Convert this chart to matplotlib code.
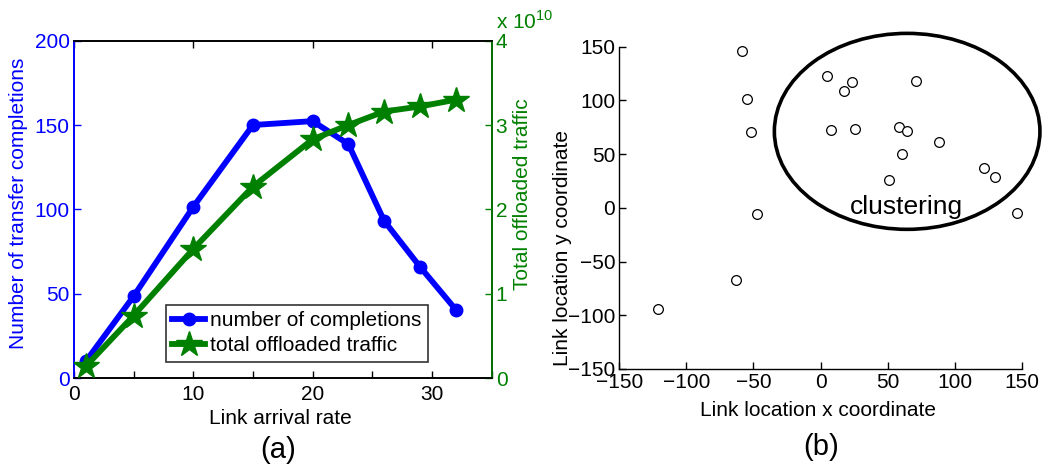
import matplotlib
matplotlib.use("Agg")
import matplotlib.pyplot as plt
from matplotlib.patches import Ellipse
from matplotlib.ticker import MultipleLocator

plt.rcParams['font.family'] = ['Liberation Sans', 'DejaVu Sans']
plt.rcParams['mathtext.fontset'] = 'custom'
plt.rcParams['mathtext.rm'] = 'Liberation Sans'

# ---- data (a) ----
arrival_rate = [1, 5, 10, 15, 20, 23, 26, 29, 32]
completions = [10, 48.5, 101.5, 150, 152.3, 138.7, 93.2, 66, 40.6]
traffic_e10 = [0.14, 0.74, 1.53, 2.27, 2.83, 3.0, 3.16, 3.22, 3.30]

# ---- data (b) ----
link_x = [-58.8, -55, -51.6, -47.1, -62.8, -121.2, 4.6, 17.5, 23.7, 71.2,
          7.8, 25.5, 58.5, 64.8, 61, 88.4, 50.8, 121.7, 130.4, 146.8]
link_y = [146.3, 101.6, 70.6, -5.4, -67.2, -93.9, 123, 109, 117.1, 118,
          72.1, 73.4, 75.2, 71.5, 49.8, 61, 25.6, 36.8, 28.4, -4.8]

BLUE = (0, 0, 1)
GREEN = (0, 0.5, 0)
FS = 15
W, H = 1043, 466

fig = plt.figure(figsize=(W / 100, H / 100), dpi=100)

def fx(px):
    return px / W

def fy(py):
    return 1 - py / H

# ---------------- panel (a) ----------------
L, R, T, B = 74, 491.5, 40.7, 378
ax1 = fig.add_axes([fx(L), fy(B), (R - L) / W, (B - T) / H])
ax1.plot(arrival_rate, completions, color=BLUE, lw=4.2, marker='o', ms=9,
         label='number of completions', zorder=3)
ax1.set_xlim(0, 35)
ax1.set_ylim(0, 200)
ax1.xaxis.set_major_locator(MultipleLocator(10))
ax1.xaxis.set_minor_locator(MultipleLocator(5))
ax1.yaxis.set_major_locator(MultipleLocator(50))
ax1.tick_params(axis='x', which='both', direction='in', length=5, width=1,
                labelsize=FS, pad=5, colors='black')
ax1.tick_params(axis='x', which='minor', top=False)
ax1.tick_params(axis='x', which='major', top=True)
ax1.tick_params(axis='y', direction='in', length=5, width=1, labelsize=FS,
                colors=BLUE, pad=3)
ax1.spines['left'].set_color(BLUE)
for s in ax1.spines.values():
    s.set_linewidth(1.2)

ax2 = ax1.twinx()
ax2.plot(arrival_rate, traffic_e10, color=GREEN, lw=4.2, marker='*', ms=19,
         label='total offloaded traffic', zorder=3)
ax2.set_ylim(0, 4)
ax2.yaxis.set_major_locator(MultipleLocator(1))
ax2.tick_params(axis='y', direction='in', length=5, width=1, labelsize=FS,
                colors=GREEN, pad=3)
ax2.spines['right'].set_color(GREEN)
ax2.spines['left'].set_color(BLUE)
for s in ax2.spines.values():
    s.set_linewidth(1.2)

h1, l1 = ax1.get_legend_handles_labels()
h2, l2 = ax2.get_legend_handles_labels()
leg = ax2.legend(h1 + h2, l1 + l2, loc='lower left',
                 bbox_to_anchor=((165.7 - L) / (R - L), (B - 361.7) / (B - T)),
                 borderaxespad=0, fontsize=FS, frameon=True, fancybox=False,
                 handlelength=1.6, handletextpad=0.25, borderpad=0.3,
                 labelspacing=0.3, markerscale=1.0)
leg.get_frame().set_edgecolor('black')
leg.get_frame().set_linewidth(1.2)

fig.text(fx(19), fy(203), 'Number of transfer completions', rotation=90,
         color=BLUE, fontsize=FS, ha='center', va='center')
fig.text(fx(522), fy(194), 'Total offloaded traffic', rotation=90,
         color=GREEN, fontsize=FS, ha='center', va='center')
fig.text(fx(496), fy(29), r'x 10$^{10}$', color=GREEN, fontsize=FS,
         ha='left', va='baseline')
fig.text(fx(280), fy(424), 'Link arrival rate', fontsize=FS, ha='center',
         va='baseline')
fig.text(fx(278), fy(450), '(a)', fontsize=21, ha='center', va='center')

# ---------------- panel (b) ----------------
L2, R2, T2, B2 = 619.3, 1021.7, 46.7, 369
ax3 = fig.add_axes([fx(L2), fy(B2), (R2 - L2) / W, (B2 - T2) / H])
ax3.plot(link_x, link_y, linestyle='none', marker='o', ms=7,
         mfc='white', mec='black', mew=0.9, clip_on=False)
ax3.set_xlim(-150, 150)
ax3.set_ylim(-150, 150)
ax3.xaxis.set_major_locator(MultipleLocator(50))
ax3.yaxis.set_major_locator(MultipleLocator(50))
ax3.tick_params(direction='in', length=5, width=1, labelsize=FS, pad=3)
ax3.spines['top'].set_visible(False)
ax3.spines['right'].set_visible(False)
for s in ax3.spines.values():
    s.set_linewidth(1.0)
ell = Ellipse((64.6, 71.2), 198, 182.4, fill=False, lw=2.6,
              edgecolor='black', clip_on=False)
ax3.add_patch(ell)
ax3.text(64.3, 0.5, 'clustering', fontsize=19, ha='center', va='center')

fig.text(fx(562), fy(247.5), 'Link location y coordinate', rotation=90,
         fontsize=FS, ha='center', va='center')
fig.text(fx(818), fy(416), 'Link location x coordinate', fontsize=FS,
         ha='center', va='baseline')
fig.text(fx(821), fy(447), '(b)', fontsize=21, ha='center', va='center')

fig.savefig('out.png', dpi=100)
